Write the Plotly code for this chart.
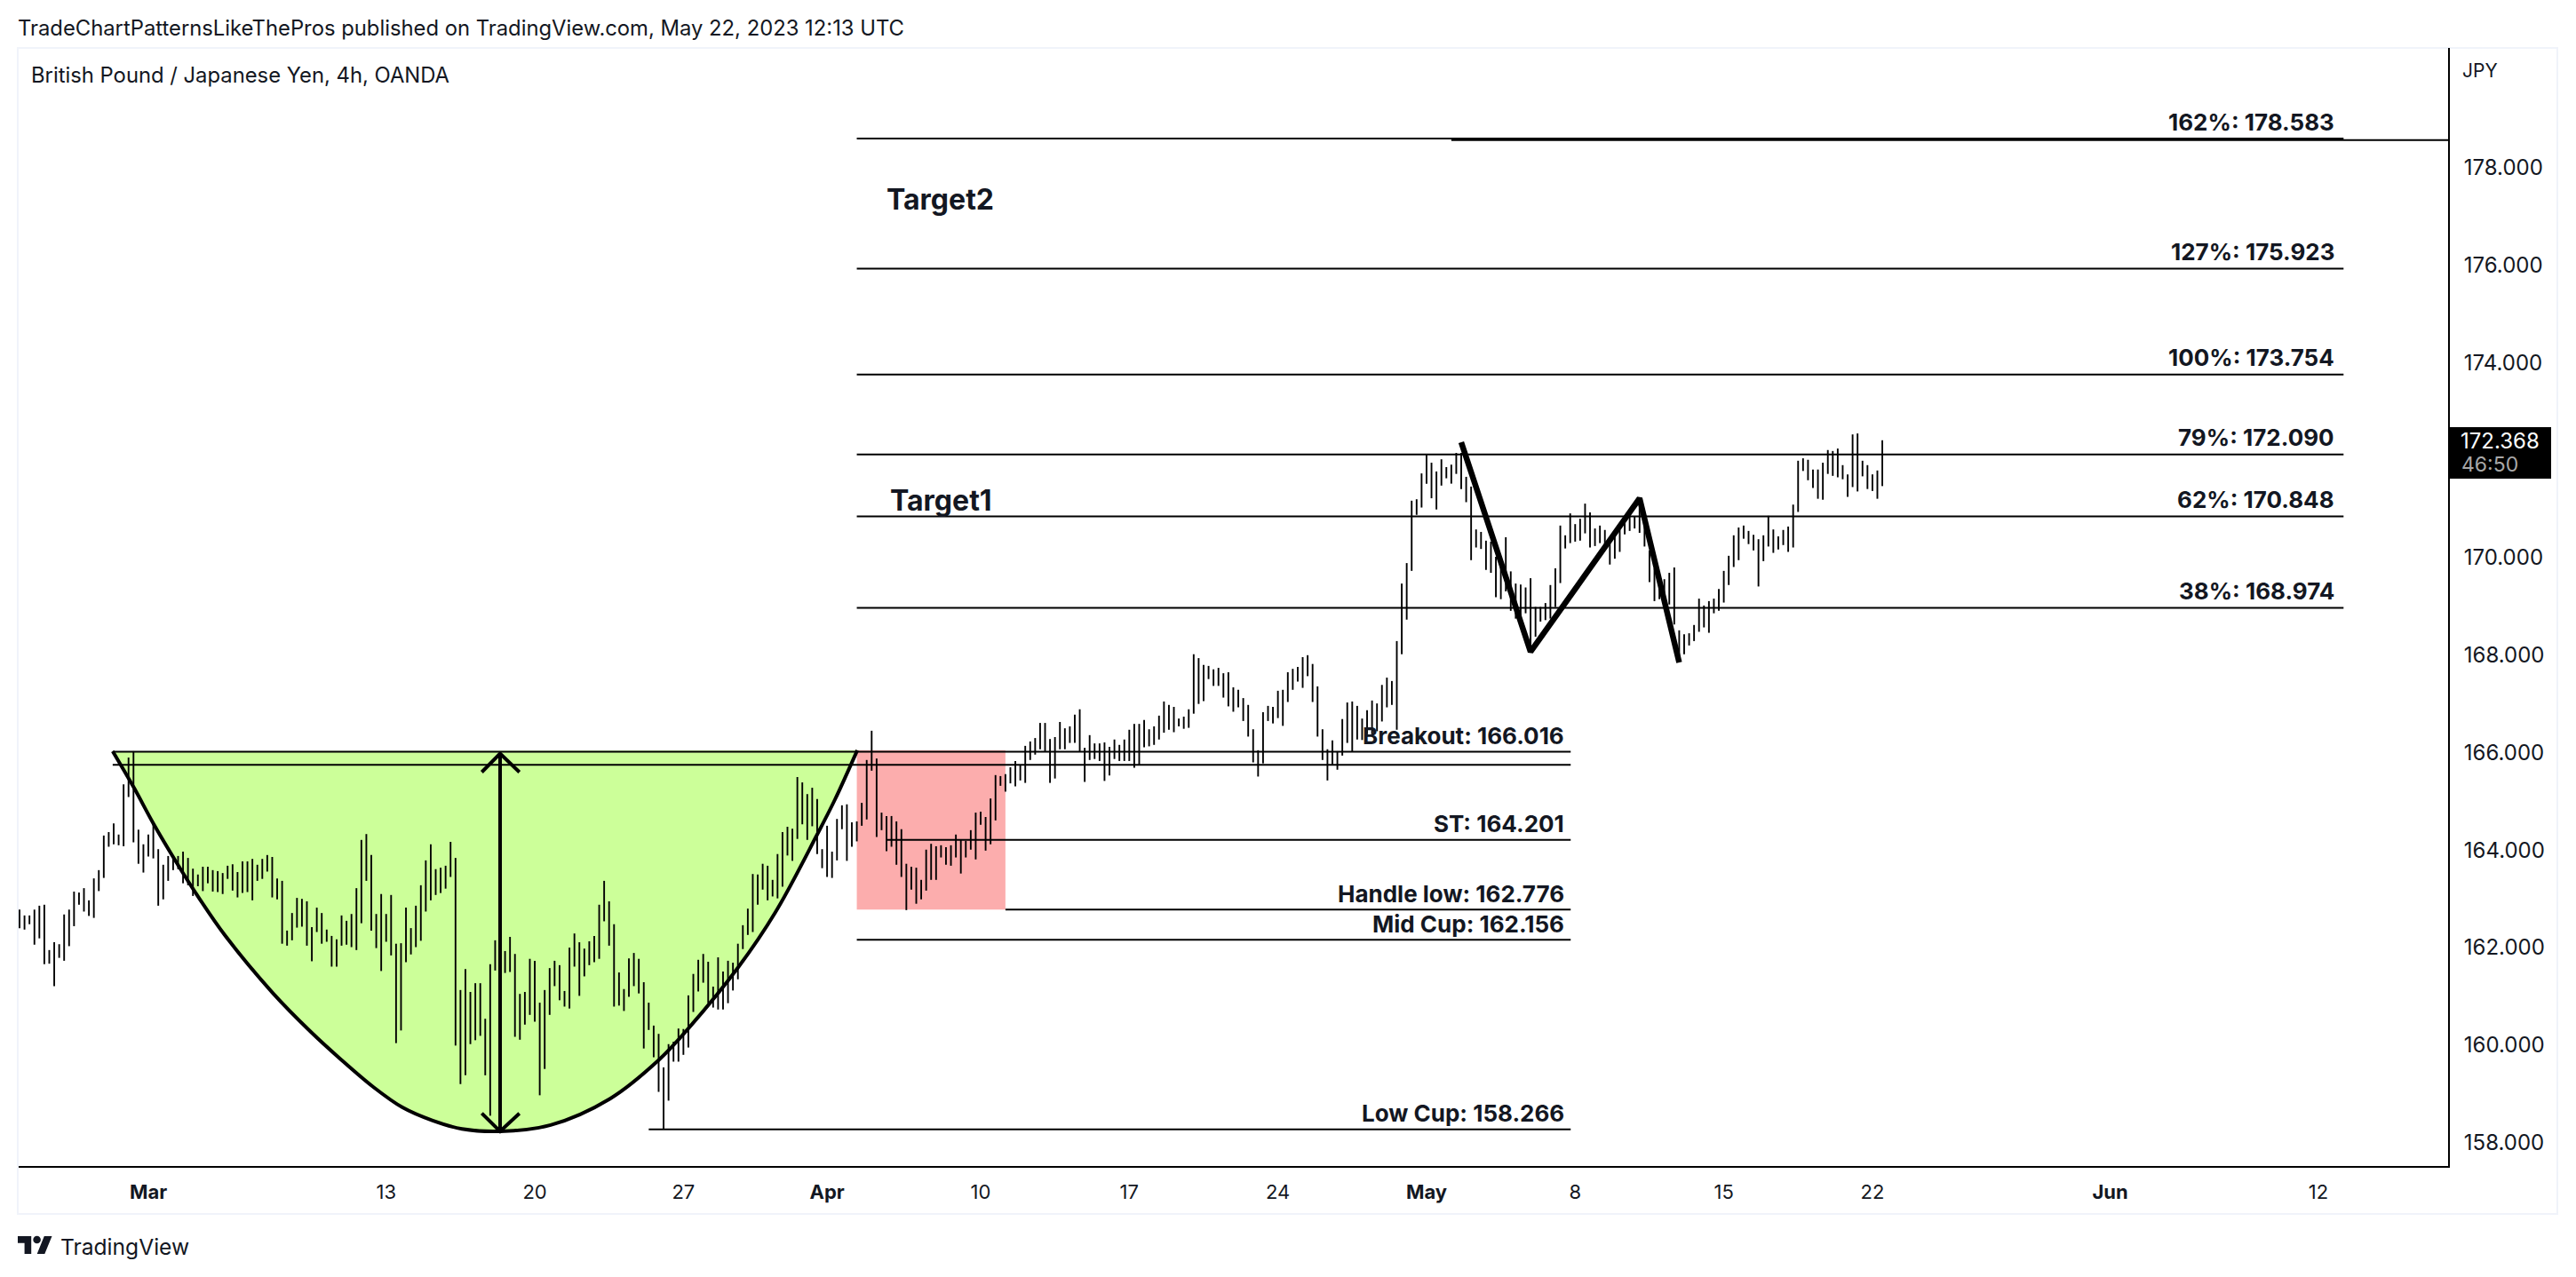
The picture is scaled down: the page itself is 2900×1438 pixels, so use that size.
import plotly.graph_objects as go

# high / low of each 4h bar
bar_highs = [
    162.78, 162.66, 162.66, 162.78, 162.86, 162.88, 161.95, 162.11, 162.07, 162.68,
    162.78, 163.15, 163.13, 163.22, 162.97, 163.42, 163.59, 164.30, 164.37, 164.55,
    164.32, 165.35, 165.90, 166.03, 164.42, 164.12, 164.32, 164.53, 164.02, 163.70,
    163.88, 163.88, 163.88, 163.97, 163.84, 163.62, 163.50, 163.66, 163.66, 163.59,
    163.57, 163.53, 163.68, 163.71, 163.55, 163.77, 163.77, 163.82, 163.70, 163.82,
    163.90, 163.86, 163.42, 163.37, 162.35, 162.71, 163.02, 163.00, 162.95, 162.42,
    162.82, 162.71, 162.37, 162.24, 162.17, 162.66, 162.55, 162.69, 163.22, 164.21,
    164.33, 163.90,
    162.69, 163.10, 162.69, 163.08, 162.08, 162.09, 162.82, 162.40, 162.86, 163.28,
    163.79, 164.12, 163.61, 163.64, 163.68, 164.17, 163.84, 161.13, 161.56, 161.09,
    161.27, 161.27, 160.54, 161.66, 162.15, 162.07, 161.93, 162.22, 161.87, 161.05,
    161.09, 161.77, 161.73, 160.87, 161.13, 161.58, 161.73, 161.64, 161.11, 162.00,
    162.29, 162.11, 161.98, 162.13, 162.24, 162.88, 163.37, 162.95, 162.48, 161.49,
    161.15, 161.78, 161.89, 161.77, 161.29, 160.87, 160.40, 160.23, 159.54, 160.02,
    160.07, 160.34, 160.33, 161.02, 161.46, 161.75, 161.87, 161.71, 161.20, 161.80,
    161.51, 161.73,
    161.69, 162.08, 162.46, 162.80, 163.51, 163.50, 163.72, 163.68, 163.39, 163.92,
    164.37, 164.48, 164.44, 165.50, 165.39, 165.15, 165.28, 165.05, 164.02, 164.50,
    163.97, 164.64, 164.92, 164.94, 164.57, 164.59, 164.97, 165.85, 166.45, 165.88,
    164.77, 164.70, 164.70, 164.59, 164.43, 163.72, 163.66, 163.64, 163.39, 164.01,
    164.13, 164.08, 164.10, 164.06, 164.10, 164.32, 164.21, 164.19, 164.41, 164.77,
    164.79, 164.68, 165.06,
    165.54, 165.52, 165.56, 165.70, 165.83, 165.74, 166.14, 166.23, 166.30, 166.61,
    166.61, 166.28, 166.32, 166.63, 166.50, 166.54, 166.78, 166.89, 166.10, 166.36,
    166.19, 166.19, 166.21, 166.12, 166.27, 166.16, 166.27, 166.47, 166.59, 166.59,
    166.67, 166.48, 166.54, 166.76, 167.05, 166.98, 166.94, 166.70, 166.74, 166.89,
    168.02, 167.94, 167.80, 167.78, 167.71, 167.74, 167.63, 167.65, 167.34, 167.29,
    167.12, 166.98, 166.48, 166.05, 166.83, 166.96, 166.94, 167.27, 167.29, 167.65,
    167.72, 167.76, 167.96, 168.00, 167.82, 167.36, 166.48, 166.07, 166.25, 166.03,
    166.69, 167.03,
    167.05, 166.96, 166.70, 166.87, 167.07, 167.01, 167.39, 167.54, 167.47, 168.29,
    169.47, 169.89, 171.17, 171.20, 171.73, 172.11, 171.95, 171.77, 172.02, 171.86,
    171.91, 172.15, 172.15, 171.66, 171.46, 170.58, 170.53, 170.35, 170.33, 170.02,
    169.96, 170.42, 169.72, 169.47, 169.45, 169.39, 169.58, 168.99, 168.99, 169.07,
    169.44, 169.78, 170.66, 170.46, 170.91, 170.69, 170.80, 171.11, 170.93, 170.60,
    170.66, 170.57, 170.39, 170.51, 170.57, 170.81,
    170.85, 170.85, 171.21, 170.88, 170.15, 169.78, 169.60, 169.56, 169.69, 169.80,
    168.51, 168.43, 168.45, 168.62, 169.16, 169.02, 169.11, 169.16, 169.36, 169.73,
    170.04, 170.46, 170.62, 170.66, 170.55, 170.47, 170.38, 170.46, 170.86, 170.58,
    170.44, 170.57, 170.64, 171.09, 171.99, 172.04, 172.01, 171.81, 171.81, 171.95,
    172.21, 172.19, 172.24, 171.90, 171.71, 172.53, 172.55, 171.99, 171.90, 171.71,
    171.79, 172.41,
]
bar_lows = [
    162.40, 162.37, 162.48, 162.06, 162.19, 161.66, 161.67, 161.21, 161.79, 161.73,
    162.03, 162.44, 162.88, 162.74, 162.65, 162.61, 163.16, 163.43, 164.07, 164.12,
    164.10, 164.08, 165.09, 164.16, 163.72, 163.54, 163.87, 163.83, 162.86, 162.99,
    163.37, 163.59, 163.61, 163.32, 163.28, 163.06, 163.26, 163.16, 163.32, 163.15,
    163.14, 163.10, 163.41, 163.17, 163.03, 163.12, 163.14, 162.97, 163.37, 163.41,
    163.56, 163.03, 162.99, 162.08, 162.04, 162.15, 162.41, 162.43, 162.04, 161.72,
    162.32, 162.08, 162.12, 161.61, 161.61, 162.04, 162.06, 162.01, 161.95, 162.50,
    163.37, 162.35,
    161.99, 161.52, 162.12, 161.84, 160.04, 160.30, 161.70, 161.86, 162.01, 162.14,
    162.74, 162.97, 163.08, 163.12, 163.21, 163.45, 159.99, 159.20, 159.38, 160.02,
    160.10, 160.19, 159.38, 158.55, 161.53, 161.40, 161.48, 161.50, 160.17, 160.11,
    160.42, 160.62, 160.48, 158.97, 159.51, 160.62, 161.21, 160.92, 160.79, 160.75,
    161.61, 161.01, 161.41, 161.64, 161.70, 161.77, 162.54, 162.04, 160.79, 160.81,
    160.70, 160.99, 161.21, 161.06, 159.93, 160.31, 159.75, 159.04, 158.27, 158.86,
    159.66, 159.66, 159.80, 159.95, 160.68, 161.10, 161.28, 160.86, 160.77, 160.73,
    160.73, 160.86,
    161.12, 161.35, 161.97, 162.26, 162.32, 162.88, 163.19, 162.97, 163.05, 163.01,
    163.25, 163.89, 163.78, 164.23, 164.53, 164.21, 164.49, 163.92, 163.63, 163.45,
    163.43, 163.79, 164.43, 163.78, 164.07, 164.18, 164.50, 164.63, 165.63, 164.27,
    164.41, 163.98, 164.07, 163.70, 163.45, 162.77, 163.19, 162.90, 162.99, 163.17,
    163.39, 163.39, 163.85, 163.70, 163.68, 163.85, 163.52, 163.85, 164.01, 163.81,
    164.52, 163.99, 164.12,
    164.61, 165.32, 165.20, 165.37, 165.31, 165.43, 165.38, 165.85, 165.96, 166.07,
    166.03, 165.38, 165.47, 166.07, 166.07, 166.20, 166.20, 166.03, 165.40, 165.85,
    165.87, 165.83, 165.42, 165.53, 165.87, 165.83, 165.83, 165.83, 165.69, 165.74,
    166.11, 166.13, 166.16, 166.27, 166.41, 166.47, 166.42, 166.54, 166.49, 166.51,
    166.80, 167.00, 167.06, 167.51, 167.37, 167.37, 167.13, 166.95, 166.84, 166.93,
    166.65, 166.33, 165.80, 165.51, 165.78, 166.65, 166.60, 166.71, 166.55, 167.04,
    167.29, 167.46, 167.33, 167.57, 167.04, 166.33, 165.85, 165.43, 165.74, 165.65,
    165.94, 166.20,
    166.02, 166.27, 166.26, 166.38, 166.38, 166.44, 166.64, 166.93, 166.98, 166.47,
    168.02, 168.73, 169.73, 170.88, 171.03, 171.52, 171.22, 170.99, 171.48, 171.63,
    171.52, 171.72, 171.41, 171.14, 169.95, 170.21, 170.18, 169.75, 169.69, 169.19,
    169.15, 169.31, 168.91, 168.75, 168.81, 168.86, 168.08, 168.38, 168.69, 168.72,
    168.75, 168.99, 169.48, 170.19, 170.30, 170.33, 170.35, 170.50, 170.21, 170.24,
    170.30, 170.27, 169.86, 169.98, 170.12, 170.48,
    170.55, 170.60, 170.51, 170.23, 169.50, 169.11, 169.15, 169.05, 169.04, 168.63,
    167.90, 168.02, 168.20, 168.29, 168.48, 168.57, 168.46, 168.86, 168.91, 169.08,
    169.44, 169.81, 169.95, 170.39, 170.28, 170.15, 169.41, 169.93, 170.23, 170.10,
    170.17, 170.26, 170.12, 170.21, 170.94, 171.78, 171.59, 171.43, 171.21, 171.19,
    171.72, 171.68, 171.65, 171.61, 171.25, 171.45, 171.36, 171.67, 171.41, 171.37,
    171.21, 171.47,
]

# cup outline, bar index / price
cup_x = [18.8, 23.1, 27.1, 31.9, 35.5, 41.4, 51.1, 58.8, 64.7, 71.4, 77.3, 83.4, 89.3, 97.0,
         107.2, 119.2, 129.1, 135.0, 145.1, 152.6, 161.0, 164.6, 169.1]
cup_y = [166.03, 165.28, 164.53, 163.71, 163.13, 162.26, 161.07, 160.27, 159.72, 159.14, 158.72, 158.45, 158.28, 158.23,
         158.36, 158.90, 159.70, 160.34, 161.60, 162.73, 164.32, 165.04, 166.05]

# measured move arrow with its two heads
arrow_x = [93.3, 97, 100.9, None, 97, 97, None, 93.3, 97, 100.9]
arrow_y = [165.6, 165.98, 165.6, None, 165.98, 158.23, None, 158.6, 158.23, 158.6]

# hand drawn zigzag
zig_x = [291, 305, 327, 335]
zig_y = [172.37, 168.07, 171.22, 167.85]

# handle box
box_x = [169, 199]
box_y = [162.78, 166.05]

# level lines: start bar, end bar, price
level_starts = [169, 289, 169, 169, 169, 169, 169,
                18.8, 18.8, 175, 199, 169, 127]
level_ends = [469.1, 490.2, 469.1, 469.1, 469.1, 469.1, 469.1,
              313.1, 313.1, 313.1, 313.1, 313.1, 313.1]
level_prices = [178.60, 178.57, 175.93, 173.76, 172.12, 170.85, 168.97,
                166.02, 165.75, 164.21, 162.78, 162.16, 158.27]

# level captions
upper_labels = ["162%: 178.583", "127%: 175.923", "100%: 173.754", "79%: 172.090", "62%: 170.848", "38%: 168.974"]
upper_prices = [178.60, 175.93, 173.76, 172.12, 170.85, 168.97]
lower_labels = ["Breakout: 166.016", "ST: 164.201", "Handle low: 162.776", "Mid Cup: 162.156", "Low Cup: 158.266"]
lower_prices = [166.02, 164.21, 162.78, 162.16, 158.27]

y_ticks = [158, 160, 162, 164, 166, 168, 170, 172, 174, 176, 178]
y_ticklabels = ["158.000", "160.000", "162.000", "164.000", "166.000", "168.000",
                "170.000", "", "174.000", "176.000", "178.000"]
x_ticks = [26, 74, 104, 134, 163, 194, 224, 254, 284, 314, 344, 374, 422, 464]
x_ticklabels = ["<b>Mar</b>", "13", "20", "27", "<b>Apr</b>", "10", "17", "24",
                "<b>May</b>", "8", "15", "22", "<b>Jun</b>", "12"]

INK = "#131722"
FONT = "Inter"
BODY = 8  # default page margin around the plot div
WIDTH, HEIGHT = 2900 - 2 * BODY, 1438 - 2 * BODY
LEFT, RIGHT, TOP, BOTTOM = 21, 2756, 54, 1313


# page pixel -> paper fraction, for the furniture outside the plot area
def px(x):
    return (x - LEFT) / (RIGHT - LEFT)


def py(y):
    return (BOTTOM - y) / (BOTTOM - TOP)


bar_x, bar_y = [], []
for i, (hi, lo) in enumerate(zip(bar_highs, bar_lows)):
    bar_x += [i, i, None]
    bar_y += [lo, hi, None]

level_x, level_y = [], []
for a, b, p in zip(level_starts, level_ends, level_prices):
    level_x += [a, b, None]
    level_y += [p, p, None]

fig = go.Figure()

# cup fill under the bars, outline above them
fig.add_trace(go.Scatter(x=cup_x, y=cup_y, mode="lines", fill="toself", fillcolor="#ccff99",
                         line=dict(width=0, shape="spline", color="#ccff99"), hoverinfo="skip"))
fig.add_trace(go.Scatter(x=bar_x, y=bar_y, mode="lines", line=dict(color="#000000", width=1.9), hoverinfo="skip"))
fig.add_trace(go.Scatter(x=cup_x, y=cup_y, mode="lines", line=dict(color="#000000", width=4, shape="spline"), hoverinfo="skip"))
fig.add_trace(go.Scatter(x=level_x, y=level_y, mode="lines", line=dict(color="#000000", width=2), hoverinfo="skip"))
fig.add_trace(go.Scatter(x=arrow_x, y=arrow_y, mode="lines", line=dict(color="#000000", width=4), hoverinfo="skip"))
fig.add_trace(go.Scatter(x=zig_x, y=zig_y, mode="lines", line=dict(color="#000000", width=6.5), hoverinfo="skip"))

fig.add_shape(type="rect", x0=box_x[0], x1=box_x[1], y0=box_y[0], y1=box_y[1],
              fillcolor="#fcadad", line_width=0, layer="below")

# frame round the chart
fig.add_shape(type="rect", xref="paper", yref="paper", x0=px(20), x1=px(2879), y0=py(1367), y1=py(54),
              line=dict(color="#f0f3fa", width=2), layer="below")

# price tag
fig.add_shape(type="rect", xref="paper", yref="paper", x0=px(2757), x1=px(2872), y0=py(539), y1=py(481),
              fillcolor="#000000", line_width=0)

# TradingView mark
fig.add_shape(type="path", xref="paper", yref="paper", fillcolor=INK, line_width=0,
              path=f"M {px(35.2)} {py(1412)} L {px(27.6)} {py(1412)} L {px(27.6)} {py(1399.7)} L {px(20)} {py(1399.7)} "
                   f"L {px(20)} {py(1392)} L {px(35.2)} {py(1392)} Z "
                   f"M {px(50.3)} {py(1412)} L {px(41.7)} {py(1412)} L {px(49.8)} {py(1392)} L {px(58.5)} {py(1392)} Z")
fig.add_shape(type="circle", xref="paper", yref="paper", fillcolor=INK, line_width=0,
              x0=px(37.3), x1=px(45.9), y0=py(1400.3), y1=py(1391.7))

for text, p in zip(upper_labels, upper_prices):
    fig.add_annotation(x=467.6, y=p, text=f"<b>{text}</b>", showarrow=False, xanchor="right", yanchor="middle",
                       yshift=19, font=dict(family=FONT, size=26, color=INK))
for text, p in zip(lower_labels, lower_prices):
    fig.add_annotation(x=312.2, y=p, text=f"<b>{text}</b>", showarrow=False, xanchor="right", yanchor="middle",
                       yshift=18, font=dict(family=FONT, size=26, color=INK))

fig.add_annotation(x=174.6, y=177.36, text="<b>Target2</b>", showarrow=False, xanchor="left", yanchor="middle",
                   font=dict(family=FONT, size=32, color=INK))
fig.add_annotation(x=175.3, y=171.17, text="<b>Target1</b>", showarrow=False, xanchor="left", yanchor="middle",
                   font=dict(family=FONT, size=32, color=INK))


def page_text(x, y, text, size=23.8, color=INK):
    fig.add_annotation(xref="paper", yref="paper", x=px(x), y=py(y), text=text, showarrow=False,
                       xanchor="left", yanchor="middle", font=dict(family=FONT, size=size, color=color))


page_text(18, 31, "TradeChartPatternsLikeThePros published on TradingView.com, May 22, 2023 12:13 UTC")
page_text(33, 85, "British Pound / Japanese Yen, 4h, OANDA")
page_text(2770, 79, "JPY", size=21)
page_text(2768, 497, "172.368", size=24, color="#ffffff")
page_text(2769, 523, "46:50", size=23, color="#a8a8a8")
page_text(66, 1404, "TradingView", size=24.6)

fig.update_layout(
    width=WIDTH,
    height=HEIGHT,
    autosize=False,
    margin=dict(l=LEFT - BODY, r=WIDTH + BODY - RIGHT, t=TOP - BODY, b=HEIGHT + BODY - BOTTOM, pad=0),
    paper_bgcolor="#ffffff",
    plot_bgcolor="#ffffff",
    showlegend=False,
    font=dict(family=FONT, color=INK),
)
fig.update_xaxes(range=[-0.18, 490.2], tickmode="array", tickvals=x_ticks, ticktext=x_ticklabels,
                 showgrid=False, zeroline=False, ticks="", showline=True, linecolor="#000000", linewidth=2,
                 tickfont=dict(family=FONT, size=22, color=INK), ticklabelstandoff=9)
fig.update_yaxes(range=[157.519, 180.46], side="right", tickmode="array", tickvals=y_ticks, ticktext=y_ticklabels,
                 showgrid=False, zeroline=False, ticks="", showline=True, linecolor="#000000", linewidth=2,
                 tickfont=dict(family=FONT, size=24, color=INK), ticklabelstandoff=11)

fig.write_html("out.html")
